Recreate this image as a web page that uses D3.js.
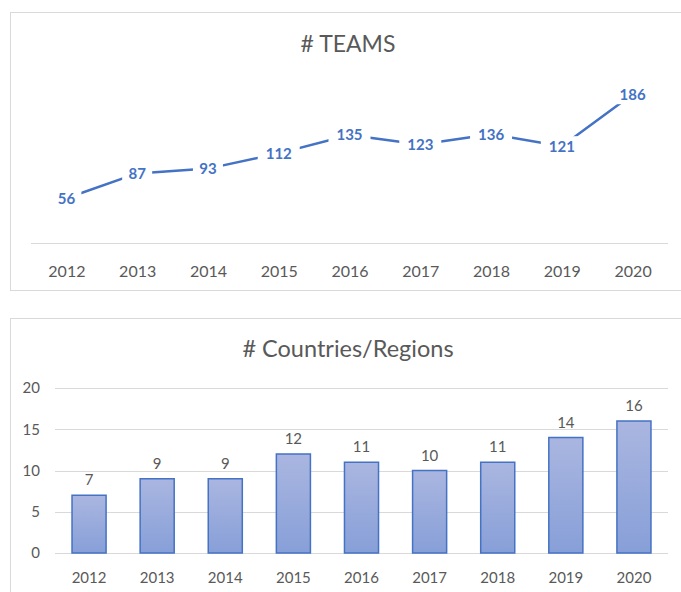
<!DOCTYPE html>
<html>
<head>
<meta charset="utf-8">
<script src="https://cdn.jsdelivr.net/npm/d3@7"></script>
<style>
body { margin: 0; background: #fff; }
text { font-family: Lato, "Open Sans", sans-serif; }
</style>
</head>
<body>
<script>
var years = ["2012","2013","2014","2015","2016","2017","2018","2019","2020"];
var teams = [56, 87, 93, 112, 135, 123, 136, 121, 186];
var countries = [7, 9, 9, 12, 11, 10, 11, 14, 16];
var countryTicks = [0, 5, 10, 15, 20];

var grey = "#595959";
var blue = "#4472C4";

var svg = d3.select("body").append("svg")
    .attr("width", 681)
    .attr("height", 592);

var defs = svg.append("defs");
var grad = defs.append("linearGradient")
    .attr("id", "barGrad")
    .attr("x1", 0).attr("y1", 0).attr("x2", 0).attr("y2", 1);
grad.append("stop").attr("offset", "0%").attr("stop-color", "#aab6e0");
grad.append("stop").attr("offset", "100%").attr("stop-color", "#879fd8");

// ---- top chart: line ----
var loadTeams = function(){
    var g = svg.append("g");
    g.append("rect")
        .attr("x", 10.5).attr("y", 12.5)
        .attr("width", 700).attr("height", 278)
        .attr("fill", "#fff").attr("stroke", "#d9d9d9");

    g.append("text")
        .attr("x", 348).attr("y", 52)
        .attr("text-anchor", "middle")
        .attr("font-size", 23)
        .attr("fill", grey)
        .text("# TEAMS");

    var x = d3.scalePoint().domain(years).range([31, 668]).padding(0.5);
    var y = d3.scaleLinear().domain([0, 200]).range([243, 83]);

    g.append("line")
        .attr("x1", 31).attr("x2", 668)
        .attr("y1", 243.5).attr("y2", 243.5)
        .attr("stroke", "#d9d9d9").attr("stroke-width", 1);

    var xAxis = d3.axisBottom(x).tickSize(0).tickPadding(0);
    var ax = g.append("g")
        .attr("transform", "translate(0,277)")
        .call(xAxis);
    ax.select(".domain").remove();
    ax.selectAll("text")
        .attr("font-size", 16)
        .attr("fill", grey)
        .attr("dy", 0);

    var line = d3.line()
        .x(function(d, i){ return x(years[i]); })
        .y(function(d){ return y(d); });

    g.append("path").datum(teams)
        .attr("d", line)
        .attr("fill", "none")
        .attr("stroke", blue)
        .attr("stroke-width", 2.5)
        .attr("stroke-linejoin", "round");

    var lab = g.selectAll(".lab").data(teams).enter().append("g")
        .attr("transform", function(d, i){ return "translate(" + x(years[i]) + "," + y(d) + ")"; });
    lab.append("rect")
        .attr("x", function(d){ return d >= 100 ? -21 : -15; })
        .attr("width", function(d){ return d >= 100 ? 42 : 30; })
        .attr("y", -10).attr("height", 20)
        .attr("fill", "#fff");
    lab.append("text")
        .attr("text-anchor", "middle")
        .attr("dy", "0.36em")
        .attr("font-size", 15)
        .attr("font-weight", "bold")
        .attr("fill", blue)
        .text(function(d){ return d; });
};

// ---- bottom chart: bars ----
var loadCountries = function(){
    var g = svg.append("g");
    g.append("rect")
        .attr("x", 10.5).attr("y", 318.5)
        .attr("width", 700).attr("height", 300)
        .attr("fill", "#fff").attr("stroke", "#d9d9d9");

    g.append("text")
        .attr("x", 348).attr("y", 357)
        .attr("text-anchor", "middle")
        .attr("font-size", 23.5)
        .attr("fill", grey)
        .text("# Countries/Regions");

    var x = d3.scaleBand().domain(years).range([55, 668]).paddingInner(0.5).paddingOuter(0.25);
    var y = d3.scaleLinear().domain([0, 20]).range([553, 388]);

    g.selectAll(".grid").data(countryTicks).enter().append("line")
        .attr("x1", 55).attr("x2", 668)
        .attr("y1", function(d){ return Math.round(y(d)) + 0.5; })
        .attr("y2", function(d){ return Math.round(y(d)) + 0.5; })
        .attr("stroke", "#d9d9d9");

    var yAxis = d3.axisLeft(y).tickValues(countryTicks).tickSize(0).tickPadding(0);
    var ay = g.append("g")
        .attr("transform", "translate(40,0)")
        .call(yAxis);
    ay.select(".domain").remove();
    ay.selectAll("text").attr("font-size", 15).attr("fill", grey);

    g.selectAll(".bar").data(countries).enter().append("rect")
        .attr("x", function(d, i){ return x(years[i]); })
        .attr("y", function(d){ return y(d); })
        .attr("width", x.bandwidth())
        .attr("height", function(d){ return y(0) - y(d); })
        .attr("fill", "url(#barGrad)")
        .attr("stroke", blue)
        .attr("stroke-width", 1.5);

    g.selectAll(".val").data(countries).enter().append("text")
        .attr("x", function(d, i){ return x(years[i]) + x.bandwidth() / 2; })
        .attr("y", function(d){ return y(d) - 10; })
        .attr("text-anchor", "middle")
        .attr("font-size", 15)
        .attr("fill", grey)
        .text(function(d){ return d; });

    var xAxis = d3.axisBottom(x).tickSize(0).tickPadding(0);
    var ax = g.append("g")
        .attr("transform", "translate(0,583)")
        .call(xAxis);
    ax.select(".domain").remove();
    ax.selectAll("text")
        .attr("font-size", 15)
        .attr("fill", grey)
        .attr("dy", 0);
};

loadTeams();
loadCountries();
</script>
</body>
</html>
